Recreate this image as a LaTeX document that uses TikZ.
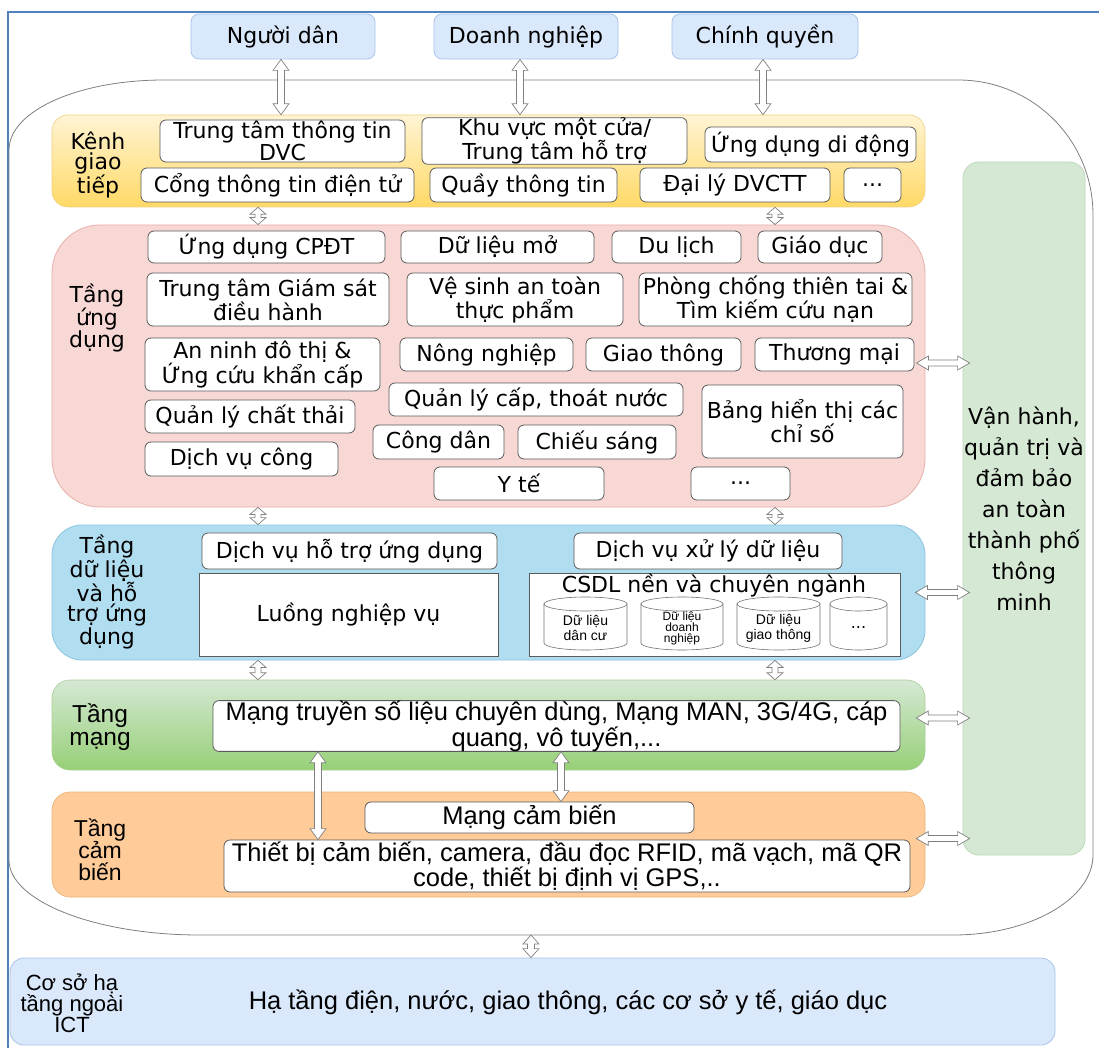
\documentclass[tikz,border=0pt]{standalone}
\usepackage{fontspec}
\setmainfont{DejaVu Sans}
\newfontfamily\narrowfont{Liberation Sans}
\usetikzlibrary{calc}
\definecolor{frameblue}{HTML}{4F81BD}
\definecolor{topfill}{HTML}{DAE8FC}
\definecolor{topdraw}{HTML}{A9C4EB}
\definecolor{chantop}{HTML}{FFF4D4}
\definecolor{chanbot}{HTML}{FFD966}
\definecolor{chandraw}{HTML}{F0D080}
\definecolor{appfill}{HTML}{F8D8D5}
\definecolor{appdraw}{HTML}{E8AFAA}
\definecolor{datafill}{HTML}{B1DDF0}
\definecolor{datadraw}{HTML}{8CC4DE}
\definecolor{nettop}{HTML}{D5E8D4}
\definecolor{netbot}{HTML}{97D077}
\definecolor{netdraw}{HTML}{A9CF97}
\definecolor{senfill}{HTML}{FFCC99}
\definecolor{sendraw}{HTML}{E8B27A}
\definecolor{vhfill}{HTML}{D5E8D4}
\definecolor{vhdraw}{HTML}{BCD9B8}
\definecolor{arrowdraw}{HTML}{808080}
\definecolor{boxdraw}{HTML}{5A5A5A}

\newcommand\fontA{\fontsize{22}{20.5}\selectfont}
\newcommand\fontN{\narrowfont\fontsize{25.5}{23.5}\selectfont}
\newcommand\fontC{\narrowfont\fontsize{14}{15}\selectfont}

\newcommand\mkbox[7]{%
  \pgfmathsetmacro\bxcx{(#2+#4)/2}%
  \pgfmathsetmacro\bxcy{(#3+#5)/2}%
  \pgfmathsetmacro\bxw{#4-#2}%
  \pgfmathsetmacro\bxh{#5-#3}%
  \node[#6, minimum width=\bxw pt, minimum height=\bxh pt, inner sep=0pt] (#1) at (\bxcx,\bxcy) {#7};}

% vertical hollow double arrow: #1 top point, #2 bottom point, #3 shaft half, #4 head half, #5 head length
\newcommand\vArrow[5]{%
  \draw[harrow] let \p1=#1, \p2=#2 in
    (\x1,\y1) -- (\x1+#4,\y1-#5) -- (\x1+#3,\y1-#5) -- (\x1+#3,\y2+#5) -- (\x1+#4,\y2+#5)
    -- (\x1,\y2) -- (\x1-#4,\y2+#5) -- (\x1-#3,\y2+#5) -- (\x1-#3,\y1-#5) -- (\x1-#4,\y1-#5) -- cycle;}
% horizontal hollow double arrow: #1 left point, #2 right point
\newcommand\hArrow[5]{%
  \draw[harrow] let \p1=#1, \p2=#2 in
    (\x1,\y1) -- (\x1+#5,\y1+#4) -- (\x1+#5,\y1+#3) -- (\x2-#5,\y1+#3) -- (\x2-#5,\y1+#4)
    -- (\x2,\y1) -- (\x2-#5,\y1-#4) -- (\x2-#5,\y1-#3) -- (\x1+#5,\y1-#3) -- (\x1+#5,\y1-#4) -- cycle;}

% cylinder: name, x1, y1, x2, y2, text, text style
\newcommand\mkcyl[7]{%
  \pgfmathsetmacro\cyxc{(#2+#4)/2}%
  \pgfmathsetmacro\cyrx{(#4-#2)/2}%
  \pgfmathsetmacro\cyta{#3+7}%
  \pgfmathsetmacro\cytb{#5-7}%
  \filldraw[cylst] (#2,\cyta) -- (#2,\cytb) arc[start angle=180, end angle=0, x radius=\cyrx, y radius=7] -- (#4,\cyta) -- cycle;
  \draw[cylst] (\cyxc,\cyta) ellipse [x radius=\cyrx, y radius=7];
  \pgfmathsetmacro\cyyc{(\cyta+#5)/2+1}%
  \node[#7] (#1) at (\cyxc,\cyyc) {#6};}

\tikzset{
  harrow/.style={draw=arrowdraw, fill=white, line width=0.7pt, line join=miter},
  topbox/.style={draw=topdraw, fill=topfill, rounded corners=8pt, line width=0.8pt, font=\fontA, align=center},
  wb/.style={draw=boxdraw, fill=white, rounded corners=6pt, line width=0.8pt, font=\fontA, align=center},
  wbn/.style={draw=boxdraw, fill=white, rounded corners=6pt, line width=0.8pt, font=\fontN, align=center},
  sq/.style={draw=boxdraw, fill=white, line width=0.7pt, font=\fontA, align=center},
  lab/.style={font=\fontA, align=center, inner sep=0pt},
  labn/.style={font=\fontN, align=center, inner sep=0pt},
  chanl/.style={draw=chandraw, top color=chantop, bottom color=chanbot, rounded corners=16pt, line width=0.6pt},
  appl/.style={draw=appdraw, fill=appfill, rounded corners=48pt, line width=0.8pt},
  datal/.style={draw=datadraw, fill=datafill, rounded corners=30pt, line width=0.8pt},
  netl/.style={draw=netdraw, top color=nettop, bottom color=netbot, rounded corners=18pt, line width=0.6pt},
  senl/.style={draw=sendraw, fill=senfill, rounded corners=18pt, line width=0.6pt},
  vhl/.style={draw=vhdraw, fill=vhfill, rounded corners=16pt, line width=0.8pt, align=center,
    font=\fontsize{22}{31}\selectfont},
  botl/.style={draw=topdraw, fill=topfill, rounded corners=14pt, line width=0.8pt},
  cylst/.style={draw=black!55, fill=white, line width=0.6pt},
  cyltext/.style={font=\fontC, align=center, inner sep=0pt},
}

\begin{document}
\begin{tikzpicture}[x=1pt, y=-1pt]
\useasboundingbox (0,0) rectangle (1099,1048);
\fill[white] (0,0) rectangle (1099,1048);
% frame
\draw[frameblue, line width=1.6pt] (8,1048) -- (8,12) -- (1099,12);

% outer rounded region
\draw[black!50, line width=0.8pt, fill=white]
  (9,150) .. controls (9,111) and (78,80) .. (164,80) -- (958,80)
  .. controls (1033,80) and (1093,140) .. (1093,215) -- (1093,855)
  .. controls (1093,899) and (1030,935) .. (953,935) -- (200,935)
  .. controls (95,935) and (9,901) .. (9,860) -- cycle;
\coordinate (outerbot) at (531,935);

% top actors
\mkbox{nd}{191}{14}{375}{59}{topbox}{Người dân}
\mkbox{dn}{434}{14}{618}{59}{topbox}{Doanh nghiệp}
\mkbox{cq}{672}{14}{858}{59}{topbox}{Chính quyền}

% channel layer
\mkbox{chan}{52}{115}{925}{207}{chanl}{}
\node[lab] (chanlab) at (98,165) {Kênh\\giao\\tiếp};
\mkbox{k1}{160}{120}{405}{162}{wb}{Trung tâm thông tin\\DVC}
\mkbox{k2}{422}{120}{687}{162}{wb}{Khu vực một cửa/\\Trung tâm hỗ trợ}
\mkbox{k3}{705}{127}{916}{162}{wb}{Ứng dụng di động}
\mkbox{k4}{141}{168}{414}{202}{wb}{Cổng thông tin điện tử}
\mkbox{k5}{430}{168}{617}{202}{wb}{Quầy thông tin}
\mkbox{k6}{640}{168}{830}{202}{wb}{Đại lý DVCTT}
\mkbox{k7}{844}{168}{901}{202}{wb}{...}

% application layer
\mkbox{app}{52}{225}{925}{507}{appl}{}
\node[lab] (applab) at (97,318) {Tầng\\ứng\\dụng};
\mkbox{a1}{148}{231}{385}{263}{wb}{Ứng dụng CPĐT}
\mkbox{a2}{401}{231}{594}{263}{wb}{Dữ liệu mở}
\mkbox{a3}{612}{231}{741}{263}{wb}{Du lịch}
\mkbox{a4}{758}{231}{882}{263}{wb}{Giáo dục}
\mkbox{a5}{147}{273}{389}{326}{wb}{Trung tâm Giám sát\\điều hành}
\mkbox{a6}{407}{273}{623}{326}{wb}{Vệ sinh an toàn\\thực phẩm}
\mkbox{a7}{639}{273}{912}{326}{wb}{Phòng chống thiên tai \&\\Tìm kiếm cứu nạn}
\mkbox{a8}{145}{338}{380}{391}{wb}{An ninh đô thị \&\\Ứng cứu khẩn cấp}
\mkbox{a9}{400}{338}{573}{371}{wb}{Nông nghiệp}
\mkbox{a10}{586}{338}{741}{371}{wb}{Giao thông}
\mkbox{a11}{755}{338}{914}{371}{wb}{Thương mại}
\mkbox{a12}{145}{400}{355}{433}{wb}{Quản lý chất thải}
\mkbox{a13}{389}{383}{683}{416}{wb}{Quản lý cấp, thoát nước}
\mkbox{a14}{702}{385}{903}{458}{wb}{Bảng hiển thị các\\chỉ số}
\mkbox{a15}{145}{442}{338}{476}{wb}{Dịch vụ công}
\mkbox{a16}{373}{425}{504}{459}{wb}{Công dân}
\mkbox{a17}{518}{425}{676}{459}{wb}{Chiếu sáng}
\mkbox{a18}{434}{467}{604}{500}{wb}{Y tế}
\mkbox{a19}{691}{467}{790}{500}{wb}{...}

% data layer
\mkbox{data}{52}{525}{925}{660}{datal}{}
\node[lab] (datalab) at (107,592) {Tầng\\dữ liệu\\và hỗ\\trợ ứng\\dụng};
\mkbox{d1}{202}{533}{497}{569}{wb}{Dịch vụ hỗ trợ ứng dụng}
\mkbox{d2}{199}{573}{498}{656}{sq}{Luồng nghiệp vụ}
\mkbox{d3}{574}{533}{842}{569}{wb}{Dịch vụ xử lý dữ liệu}
\mkbox{d4}{529}{573}{900}{656}{sq}{}
\node[lab] (csdl) at (714,585) {CSDL nền và chuyên ngành};
\mkcyl{c1}{544}{597}{627}{650}{Dữ liệu\\dân cư}{cyltext}
\mkcyl{c2}{641}{597}{723}{650}{Dữ liệu\\doanh\\nghiệp}{cyltext, font=\narrowfont\fontsize{12}{10.5}\selectfont}
\mkcyl{c3}{737}{597}{820}{650}{Dữ liệu\\giao thông}{cyltext}
\mkcyl{c4}{830}{597}{887}{650}{...}{cyltext, font=\fontsize{16}{16}\selectfont}

% network layer
\mkbox{net}{52}{680}{925}{770}{netl}{}
\node[labn, font=\narrowfont\fontsize{24.5}{22.5}\selectfont] (netlab) at (100,727) {Tầng\\mạng};
\mkbox{n1}{213}{702}{900}{750}{wbn}{Mạng truyền số liệu chuyên dùng, Mạng MAN, 3G/4G, cáp\\quang, vô tuyến,...}

% sensor layer
\mkbox{sen}{52}{792}{925}{897}{senl}{}
\node[labn, font=\narrowfont\fontsize{23}{22}\selectfont] (senlab) at (100,850) {Tầng\\cảm\\biến};
\mkbox{s1}{365}{802}{694}{833}{wbn}{Mạng cảm biến}
\mkbox{s2}{224}{840}{910}{892}{wbn}{Thiết bị cảm biến, camera, đầu đọc RFID, mã vạch, mã QR\\code, thiết bị định vị GPS,..}

% operations column
\mkbox{vh}{963}{162}{1085}{855}{vhl}{Vận hành,\\quản trị và\\đảm bảo\\an toàn\\thành phố\\thông\\minh}

% bottom infrastructure
\mkbox{bot}{10}{958}{1055}{1045}{botl}{}
\node[labn, font=\narrowfont\fontsize{22}{19.5}\selectfont] (botlab) at (72,1003) {Cơ sở hạ\\tầng ngoài\\ICT};
\node[labn, font=\narrowfont\fontsize{25.5}{25}\selectfont] (bottxt) at (568,1002) {Hạ tầng điện, nước, giao thông, các cơ sở y tế, giáo dục};

% helper coordinates for arrow columns
\coordinate (colA) at (258,0);
\coordinate (colB) at (775,0);
\coordinate (colC) at (318,0);
\coordinate (colD) at (561,0);

% arrows actors -> channel
\vArrow{([xshift=-2pt]nd.south)}{(chan.north)}{3.5pt}{8pt}{11pt}
\vArrow{([xshift=-6pt]dn.south)}{(chan.north)}{3.5pt}{8pt}{11pt}
\vArrow{([xshift=-2pt]cq.south)}{(chan.north)}{3.5pt}{8pt}{11pt}
% arrows between layers
\vArrow{(chan.south -| colA)}{(app.north)}{3pt}{8pt}{7pt}
\vArrow{(chan.south -| colB)}{(app.north)}{3pt}{8pt}{7pt}
\vArrow{(app.south -| colA)}{(data.north)}{3pt}{8pt}{7pt}
\vArrow{(app.south -| colB)}{(data.north)}{3pt}{8pt}{7pt}
\vArrow{(data.south -| colA)}{(net.north)}{3pt}{8pt}{7pt}
\vArrow{(data.south -| colB)}{(net.north)}{3pt}{8pt}{7pt}
% network <-> sensor
\vArrow{(n1.south -| colC)}{(s2.north)}{3.5pt}{8pt}{11pt}
\vArrow{(n1.south -| colD)}{(s1.north)}{3.5pt}{8pt}{11pt}
% outer region <-> infrastructure
\vArrow{(outerbot)}{(bot.north)}{3.5pt}{8pt}{9pt}
% layers <-> operations
\hArrow{([shift={(-9pt,3pt)}]app.east)}{([xshift=7pt]vh.west)}{3pt}{7pt}{12pt}
\hArrow{([shift={(-10pt,0pt)}]data.east)}{([xshift=7pt]vh.west)}{3pt}{7pt}{12pt}
\hArrow{([shift={(-9pt,7pt)}]net.east)}{([xshift=7pt]vh.west)}{3pt}{7pt}{12pt}
\hArrow{([shift={(-9pt,6pt)}]sen.east)}{([xshift=7pt]vh.west)}{3pt}{7pt}{12pt}
\end{tikzpicture}
\end{document}
